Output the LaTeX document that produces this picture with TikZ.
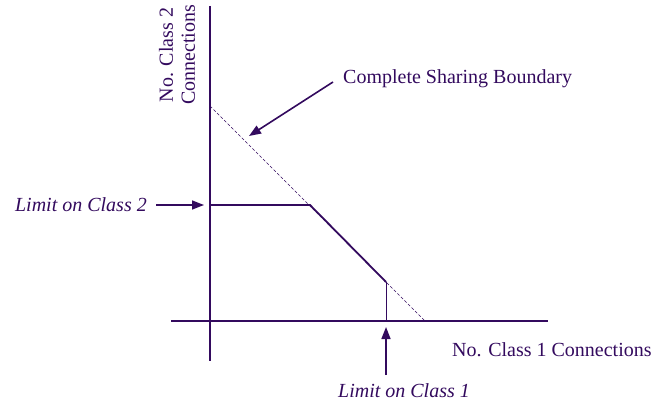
\documentclass[tikz,border=0pt]{standalone}
\usepackage{fontspec}
\setmainfont{Liberation Serif}
\usetikzlibrary{arrows.meta}
\definecolor{ink}{HTML}{330A5E}
\begin{document}
\begin{tikzpicture}[x=1pt,y=-1pt,
  lbl/.style={text=ink,font=\fontsize{20}{22}\selectfont,inner sep=0pt},
  ilbl/.style={lbl,font=\fontsize{20}{22}\selectfont\itshape},
  axis/.style={draw=ink,line width=1.6pt},
  limitline/.style={draw=ink,line width=1.8pt},
  thinline/.style={draw=ink,line width=1pt},
  boundary/.style={draw=ink,line width=0.6pt,dash pattern=on 3pt off 2pt},
  pointer/.style={draw=ink,line width=1.6pt,-{Triangle[length=12pt,width=9pt]}}]
\useasboundingbox (0,0) rectangle (671,406);
% axes
\coordinate (ytop) at (210,6);
\coordinate (ybot) at (210,361);
\coordinate (xl) at (171,321);
\coordinate (xr) at (548,321);
\draw[axis,line width=1.3pt] (ytop) -- (ybot);
\draw[axis] (xl) -- (xr);
% boundary
\coordinate (b1) at (210,106);
\coordinate (b2) at (425,321);
\draw[boundary] (b1) -- (b2);
% limits
\coordinate (l1) at (210,205);
\coordinate (l2) at (310,205);
\coordinate (l3) at (386,282);
\coordinate (l4) at (386,321);
\draw[limitline,line join=miter] (l1) -- (l2) -- (l3);
\draw[thinline] (l3) -- (l4);
% labels
\node[lbl,anchor=west] (csb) at (343,79) {Complete Sharing Boundary};
\node[ilbl,anchor=east] (lc2) at (147,205) {Limit on Class 2};
\node[ilbl] (lc1) at (404,391) {Limit on Class 1};
\node[lbl,anchor=west] (xlab) at (452,350) {No. Class 1 Connections};
\node[lbl,rotate=90,align=center] (ylab) at (177,55) {No. Class 2\\Connections};
% pointers
\coordinate (csbtip) at (249,136);
\coordinate (lc2tip) at (204,205);
\coordinate (lc1tip) at (386,327);
\coordinate (csbtail) at (333,82);
\coordinate (lc1tail) at (386,375);
\draw[pointer] (csbtail) -- (csbtip);
\draw[pointer] (lc2.east) ++(9,0) coordinate (lc2tail) -- (lc2tip);
\draw[pointer] (lc1tail) -- (lc1tip);
\end{tikzpicture}
\end{document}
